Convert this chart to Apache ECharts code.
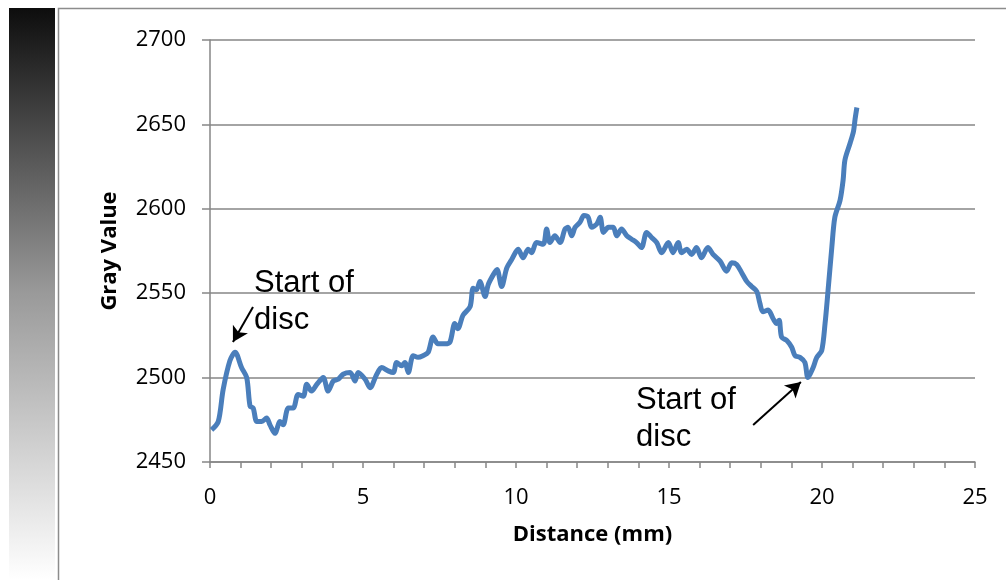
<!DOCTYPE html>
<html><head><meta charset="utf-8">
<script src="https://cdn.jsdelivr.net/npm/echarts@6/dist/echarts.min.js"></script>
<style>html,body{margin:0;padding:0;background:#fff}#c{width:1006px;height:580px}</style>
</head><body><div id="c"></div>
<script>
const distance = [0.05,0.27,0.43,0.65,0.82,1.03,1.2,1.31,1.41,1.53,1.69,1.85,1.96,2.12,2.29,2.39,2.56,2.72,2.88,3.05,3.16,3.32,3.49,3.7,3.86,4.03,4.19,4.35,4.58,4.74,4.84,5.07,5.23,5.45,5.61,5.82,5.99,6.1,6.26,6.37,6.48,6.64,6.8,6.96,7.13,7.29,7.45,7.68,7.84,8.0,8.1,8.27,8.5,8.6,8.71,8.82,8.99,9.09,9.26,9.38,9.53,9.7,9.86,10.07,10.23,10.4,10.51,10.67,10.89,11.0,11.11,11.27,11.44,11.6,11.7,11.82,11.93,12.09,12.22,12.36,12.47,12.64,12.75,12.86,13.02,13.18,13.29,13.45,13.62,13.78,13.94,14.1,14.27,14.43,14.6,14.76,14.98,15.13,15.3,15.41,15.58,15.74,15.9,16.06,16.27,16.44,16.67,16.88,17.05,17.21,17.38,17.54,17.7,17.87,17.97,18.07,18.24,18.4,18.52,18.6,18.68,18.85,19.01,19.12,19.28,19.44,19.54,19.71,19.83,19.99,20.1,20.2,20.32,20.42,20.59,20.69,20.75,20.92,21.03,21.08,21.14];
const grayValue = [2469,2474,2493,2510,2515,2506,2500,2483,2482,2474,2474,2476,2472,2467,2474,2472,2482,2482,2490,2489,2496,2492,2496,2500,2492,2498,2499,2502,2503,2498,2503,2499,2494,2502,2506,2504,2503,2509,2507,2509,2503,2513,2512,2513,2515,2524,2520,2520,2521,2532,2529,2537,2542,2553,2552,2557,2548,2555,2561,2564,2554,2565,2570,2576,2571,2576,2574,2580,2579,2588,2580,2584,2580,2588,2589,2584,2589,2592,2596,2595,2589,2591,2595,2586,2589,2589,2584,2588,2584,2582,2580,2577,2586,2583,2580,2574,2580,2574,2580,2574,2576,2573,2577,2571,2577,2573,2569,2563,2568,2567,2562,2557,2554,2551,2544,2539,2540,2535,2532,2534,2524,2522,2518,2513,2512,2509,2500,2506,2512,2516,2532,2552,2577,2595,2605,2617,2629,2639,2646,2653,2660];
const xTicks = [0,5,10,15,20,25];
const yTicks = [2450,2500,2550,2600,2650,2700];
const xTitle = 'Distance (mm)';
const yTitle = 'Gray Value';
const annotations = [
  {text:'Start of\ndisc', from:[1.405,2541.8], to:[0.75,2521.1]},
  {text:'Start of\ndisc', from:[17.75,2471.9], to:[19.31,2497.4]}
];

const chart = echarts.init(document.getElementById('c'));
const axisGray = '#868686';
const annFont = '31px "Liberation Sans", Arial';
chart.setOption({
  animation:false,
  grid:{left:210,right:31,top:40,bottom:118},
  graphic:[
    {type:'rect',shape:{x:9,y:8,width:46,height:572},
     style:{fill:new echarts.graphic.LinearGradient(0,0,0,1,[{offset:0,color:'#0d0d0d'},{offset:0.5,color:'#9a9a9a'},{offset:1,color:'#ffffff'}])}},
    {type:'polyline',shape:{points:[[58.5,580],[58.5,8.5],[1006,8.5]]},style:{stroke:'#8c8c8c',lineWidth:1.5,fill:null}},
    {type:'text',x:110,y:251,rotation:Math.PI/2,
     style:{text:yTitle,font:'bold 22px "Open Sans"',fill:'#000',align:'center',verticalAlign:'middle'}},
    {type:'text',x:254,y:265,style:{text:annotations[0].text,font:annFont,fill:'#000',lineHeight:37}},
    {type:'text',x:636,y:382,style:{text:annotations[1].text,font:annFont,fill:'#000',lineHeight:37}}
  ],
  xAxis:{type:'value',min:xTicks[0],max:xTicks[xTicks.length-1],interval:5,
    name:xTitle,nameLocation:'middle',nameGap:62,
    nameTextStyle:{fontFamily:'Open Sans',fontWeight:'bold',fontSize:22,color:'#000'},
    axisLine:{show:true,lineStyle:{color:axisGray,width:1.5}},
    axisTick:{show:true,length:6,lineStyle:{color:axisGray,width:1.5}},
    minorTick:{show:true,splitNumber:5,length:6,lineStyle:{color:axisGray,width:1.5}},
    splitLine:{show:false},
    axisLabel:{fontFamily:'Open Sans',fontSize:22,color:'#000',margin:25}},
  yAxis:{type:'value',min:yTicks[0],max:yTicks[yTicks.length-1],interval:50,
    axisLine:{show:true,lineStyle:{color:axisGray,width:1.5}},
    axisTick:{show:true,length:8,lineStyle:{color:axisGray,width:1.5}},
    splitLine:{show:true,lineStyle:{color:axisGray,width:1.5}},
    axisLabel:{fontFamily:'Open Sans',fontSize:22,color:'#000',margin:24,formatter:v=>String(v)}},
  series:[{
    type:'line',data:distance.map((d,i)=>[d,grayValue[i]]),
    smooth:0.3,showSymbol:false,
    lineStyle:{color:'#4a7ebb',width:5},
    markLine:{silent:true,symbol:['none','arrow'],symbolSize:[13,15],
      lineStyle:{color:'#000',width:2,type:'solid'},label:{show:false},
      data:annotations.map(a=>[{coord:a.from},{coord:a.to}])}
  }]
});
</script></body></html>
